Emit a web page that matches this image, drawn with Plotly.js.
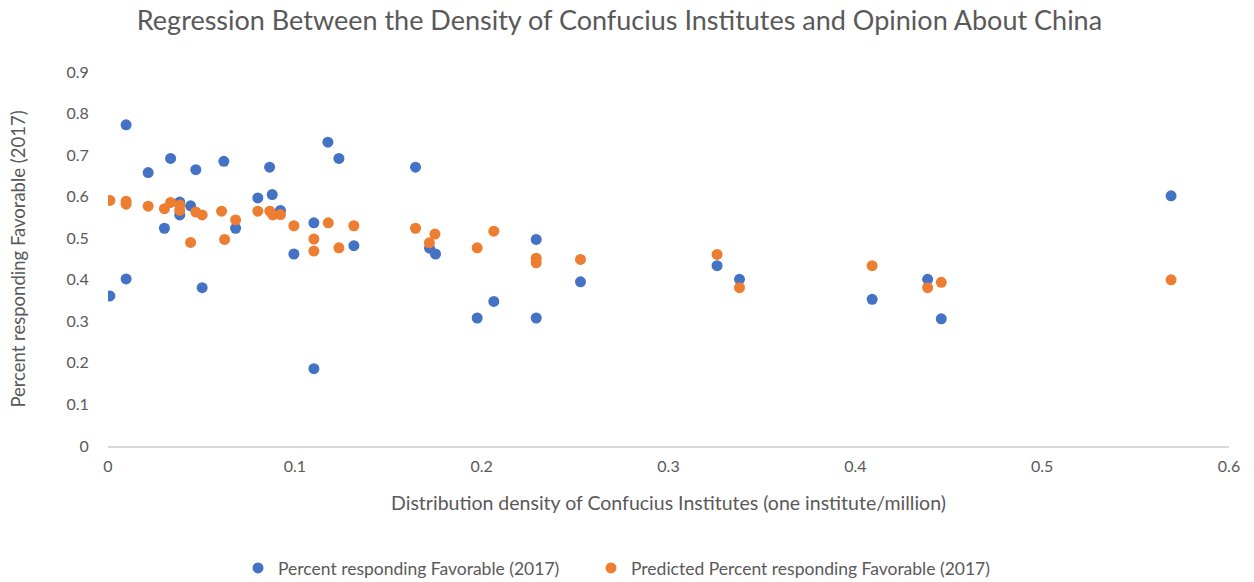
<!DOCTYPE html>
<html>
<head>
<meta charset="utf-8">
<script src="https://cdn.plot.ly/plotly-3.0.1.min.js"></script>
<style>html,body{margin:0;padding:0;background:#fff;}#chart{width:1254px;height:582px;}</style>
</head>
<body>
<div id="chart"></div>
<script>
// Percent responding Favorable (2017) — observed
var actualX = [0.001, 0.0097, 0.0097, 0.0215, 0.0302, 0.0335, 0.0384, 0.0384, 0.0442, 0.047,
               0.0504, 0.062, 0.0683, 0.0802, 0.0865, 0.0879, 0.0923, 0.0995, 0.1102, 0.1102,
               0.1177, 0.1236, 0.1316, 0.1646, 0.1721, 0.1753, 0.1976, 0.2065, 0.2292, 0.2292,
               0.2529, 0.326, 0.338, 0.409, 0.4387, 0.446, 0.569];
var actualY = [0.361, 0.773, 0.402, 0.658, 0.524, 0.692, 0.587, 0.556, 0.578, 0.665,
               0.381, 0.685, 0.524, 0.597, 0.671, 0.605, 0.567, 0.462, 0.537, 0.186,
               0.731, 0.692, 0.482, 0.671, 0.476, 0.462, 0.308, 0.348, 0.497, 0.308,
               0.395, 0.434, 0.401, 0.353, 0.401, 0.306, 0.602];
// Predicted Percent responding Favorable (2017)
var predX = [0.001, 0.0097, 0.0097, 0.0215, 0.0302, 0.0335, 0.0384, 0.0384, 0.0442, 0.047,
             0.0504, 0.0608, 0.0624, 0.0683, 0.0802, 0.0866, 0.0882, 0.0923, 0.0995, 0.1102,
             0.1102, 0.1179, 0.1236, 0.1316, 0.1646, 0.172, 0.175, 0.1976, 0.2065, 0.2292,
             0.2292, 0.2529, 0.326, 0.338, 0.409, 0.4387, 0.446, 0.569];
var predY = [0.591, 0.589, 0.582, 0.577, 0.571, 0.586, 0.580, 0.567, 0.490, 0.563,
             0.556, 0.565, 0.497, 0.544, 0.565, 0.565, 0.556, 0.557, 0.530, 0.498,
             0.469, 0.537, 0.477, 0.530, 0.524, 0.489, 0.510, 0.477, 0.517, 0.452,
             0.441, 0.449, 0.461, 0.381, 0.434, 0.381, 0.394, 0.400];

var seriesNames = ["Percent responding Favorable (2017)", "Predicted Percent responding Favorable (2017)"];
var chartTitle = "Regression Between the Density of Confucius Institutes and Opinion About China";
var xTitle = "Distribution density of Confucius Institutes (one institute/million)";
var yTitle = "Percent responding Favorable (2017)";

var FONT = "Lato, 'Open Sans', sans-serif";
var GRAY = "#595959";

var traces = [
  {x: actualX, y: actualY, name: seriesNames[0], type: "scatter", mode: "markers",
   legend: "legend", marker: {color: "#4472C4", size: 11}},
  {x: predX, y: predY, name: seriesNames[1], type: "scatter", mode: "markers",
   legend: "legend2", marker: {color: "#ED7D31", size: 11}}
];

var legendFont = {family: FONT, size: 17.5, color: GRAY};

var layout = {
  width: 1254, height: 582,
  paper_bgcolor: "#fff", plot_bgcolor: "#fff",
  margin: {l: 107.5, r: 25, t: 71.5, b: 135.5},
  font: {family: FONT, color: GRAY},
  title: {text: chartTitle, x: 0.494, xanchor: "center", y: 0.965, yanchor: "middle",
          font: {family: FONT, size: 27, color: GRAY}},
  xaxis: {range: [0, 0.6], dtick: 0.1, tick0: 0, showgrid: false, zeroline: false,
          automargin: false,
          showline: true, linecolor: "#d9d9d9", linewidth: 1.5,
          ticks: "outside", ticklen: 5, tickcolor: "rgba(0,0,0,0)",
          tickfont: {family: FONT, size: 16, color: GRAY},
          title: {text: xTitle, standoff: 22, font: {family: FONT, size: 19.5, color: GRAY}}},
  yaxis: {range: [0, 0.9], dtick: 0.1, tick0: 0, showgrid: false, zeroline: false,
          automargin: false,
          showline: false, ticks: "outside", ticklen: 15, tickcolor: "rgba(0,0,0,0)",
          tickfont: {family: FONT, size: 16, color: GRAY},
          title: {text: yTitle, standoff: 35, font: {family: FONT, size: 18.5, color: GRAY}}},
  showlegend: true,
  legend: {orientation: "h", xref: "container", x: 0.1898, xanchor: "left",
           yref: "container", y: 0.024, yanchor: "middle",
           font: legendFont, itemwidth: 30},
  legend2: {orientation: "h", xref: "container", x: 0.4713, xanchor: "left",
           yref: "container", y: 0.024, yanchor: "middle",
           font: legendFont, itemwidth: 30},
  hovermode: false
};

Plotly.newPlot("chart", traces, layout, {displayModeBar: false, staticPlot: true});
</script>
</body>
</html>
